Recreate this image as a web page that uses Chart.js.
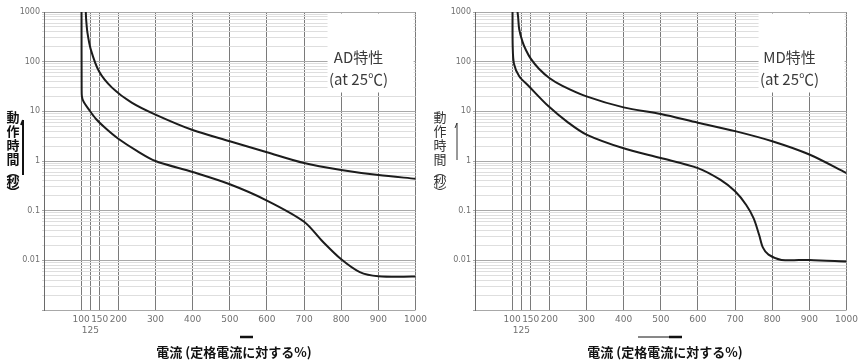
<!DOCTYPE html>
<html lang="ja">
<head>
<meta charset="UTF-8">
<title>AD特性 / MD特性</title>
<script src="https://cdn.jsdelivr.net/npm/chart.js"></script>
<style>
    body {
        margin: 0;
        background: #fff;
    }
    .wrap {
        display: flex;
        width: 862px;
        height: 363px;
    }
    .panel {
        width: 431px;
        height: 363px;
    }
</style>
</head>
<body>
<div class="wrap">
    <div class="panel"><canvas id="adChart" width="431" height="363"></canvas></div>
    <div class="panel"><canvas id="mdChart" width="431" height="363"></canvas></div>
</div>

<script>
// axis ticks
const xTicks = [100, 125, 150, 200, 300, 400, 500, 600, 700, 800, 900, 1000];
const yDecades = [0.001, 0.01, 0.1, 1, 10, 100, 1000];
const yLabels = ['', '0.01', '0.1', '1', '10', '100', '1000'];

// AD characteristic (current % of rating -> seconds)
const adMinX = [101, 101.3, 102, 106, 121, 140, 165, 200, 250, 300, 400, 500, 600, 700, 750, 800, 850, 900, 1000];
const adMinT = [1000, 30, 20, 16, 10.8, 7, 4.6, 2.8, 1.6, 1.0, 0.6, 0.34, 0.16, 0.06, 0.024, 0.0105, 0.0058, 0.0048, 0.0047];
const adMaxX = [112.5, 113.5, 117, 126, 148, 183, 236, 300, 400, 500, 600, 700, 800, 900, 1000];
const adMaxT = [1000, 700, 380, 175, 64, 30, 15, 8.6, 4.2, 2.5, 1.5, 0.91, 0.66, 0.52, 0.44];

// MD characteristic
const mdMinX = [101, 101.5, 105, 119, 145, 198, 250, 300, 400, 500, 600, 660, 700, 730, 750, 765, 775, 790, 825, 900, 1000];
const mdMinT = [1000, 200, 90, 51, 32, 12.6, 6, 3.4, 1.8, 1.15, 0.72, 0.42, 0.245, 0.13, 0.07, 0.032, 0.018, 0.013, 0.0102, 0.0102, 0.0095];
const mdMaxX = [114.5, 116, 119, 128, 137, 150, 172, 200, 234, 300, 400, 500, 600, 700, 800, 900, 1000];
const mdMaxT = [1000, 800, 450, 250, 172, 115, 72, 47, 33, 20, 12, 8.8, 5.9, 4.0, 2.5, 1.35, 0.57];

const cjk = '"Noto Sans CJK JP", "Noto Sans", sans-serif';

function toPoints(xs, ts) {
    return xs.map((x, i) => ({ x: x, y: ts[i] }));
}

function isDecade(v) {
    return yDecades.some(d => Math.abs(d - v) < d * 1e-6);
}

// minor log lines 2..9 in every decade
function yGridValues() {
    const vals = [];
    for (let i = 0; i < yDecades.length; i++) {
        vals.push(yDecades[i]);
        if (i < yDecades.length - 1) {
            for (let m = 2; m <= 9; m++) vals.push(+(yDecades[i] * m).toPrecision(3));
        }
    }
    return vals;
}

function makeTextPlugin(p) {
    return {
        id: 'panelText',
        beforeDatasetsDraw(chart) {
            const ctx = chart.ctx;
            const a = chart.chartArea;
            // blank box behind the label
            ctx.save();
            ctx.fillStyle = '#fff';
            ctx.fillRect(a.right - 88, a.top + 1.5, 86, 79);
            ctx.restore();
        },
        afterDraw(chart) {
            const ctx = chart.ctx;
            const a = chart.chartArea;
            ctx.save();
            ctx.textAlign = 'center';
            ctx.textBaseline = 'middle';

            // label inside plot
            ctx.fillStyle = '#3a3a3a';
            ctx.font = '15px ' + cjk;
            ctx.fillText(p.name, a.right - 57, 57);
            ctx.fillText('(at 25℃)', a.right - 57, 79);

            // vertical y title
            ctx.fillStyle = p.yColor;
            ctx.font = p.yFont + ' 13px ' + cjk;
            const chars = ['動', '作', '時', '間', '︵', '秒', '︶'];
            const ys = [117, 131, 145, 159, 171, 181, 192];
            chars.forEach((c, i) => ctx.fillText(c, p.yTitleX, ys[i]));
            ctx.strokeStyle = p.yColor;
            ctx.lineWidth = p.arrowW;
            ctx.beginPath();
            ctx.moveTo(p.arrowX, p.arrowBottom);
            ctx.lineTo(p.arrowX, p.arrowTop);
            ctx.stroke();
            ctx.beginPath();
            ctx.moveTo(p.arrowX - 2, p.arrowTop + 5);
            ctx.lineTo(p.arrowX, p.arrowTop);
            ctx.stroke();

            // x title
            ctx.fillStyle = '#111';
            ctx.font = 'bold 13px ' + cjk;
            ctx.fillText('電流 (定格電流に対する%)', 234, 352);
            ctx.strokeStyle = '#111';
            ctx.lineWidth = 1;
            ctx.beginPath();
            ctx.moveTo(p.barFrom, 337);
            ctx.lineTo(p.barTo, 337);
            ctx.stroke();
            ctx.lineWidth = 2.5;
            ctx.beginPath();
            ctx.moveTo(p.barTo - 13, 337);
            ctx.lineTo(p.barTo, 337);
            ctx.stroke();
            ctx.restore();
        }
    };
}

function makeChart(id, minPts, maxPts, textOpts) {
    const curve = (data) => ({
        data: data,
        borderColor: '#1c1c1c',
        borderWidth: 2,
        pointRadius: 0,
        tension: 0.3,
        fill: false
    });
    return new Chart(document.getElementById(id), {
        type: 'line',
        data: {
            datasets: [curve(minPts), curve(maxPts)]
        },
        options: {
            responsive: false,
            animation: false,
            layout: {
                padding: { left: 0, right: 8, top: 12, bottom: 0 }
            },
            plugins: {
                legend: { display: false },
                tooltip: { enabled: false }
            },
            scales: {
                x: {
                    type: 'linear',
                    min: 0,
                    max: 1000,
                    afterBuildTicks: (scale) => {
                        scale.ticks = xTicks.map(v => ({ value: v }));
                    },
                    afterFit: (scale) => { scale.height = 53; },
                    border: { display: false },
                    grid: {
                        color: '#7a7a7a',
                        lineWidth: 1,
                        drawTicks: false
                    },
                    ticks: {
                        autoSkip: false,
                        maxRotation: 0,
                        padding: 4,
                        color: '#707070',
                        font: { size: 9, family: 'DejaVu Sans' },
                        callback: (v) => v === 125 ? ['', '125'] : String(v)
                    }
                },
                y: {
                    type: 'logarithmic',
                    min: 0.001,
                    max: 1000,
                    afterBuildTicks: (scale) => {
                        scale.ticks = yGridValues().map(v => ({ value: v }));
                    },
                    afterFit: (scale) => { scale.width = 44; },
                    border: { display: true, color: '#6a6a6a', width: 1 },
                    grid: {
                        color: (c) => c.tick && isDecade(c.tick.value) ? '#a8a8a8' : '#dedede',
                        lineWidth: 1,
                        tickLength: 2
                    },
                    ticks: {
                        autoSkip: false,
                        padding: 2,
                        color: '#707070',
                        font: { size: 8, family: 'DejaVu Sans' },
                        callback: (v) => {
                            const i = yDecades.findIndex(d => Math.abs(d - v) < d * 1e-6);
                            return i >= 0 ? yLabels[i] : '';
                        }
                    }
                }
            }
        },
        plugins: [makeTextPlugin(textOpts)]
    });
}

makeChart('adChart', toPoints(adMinX, adMinT), toPoints(adMaxX, adMaxT), {
    name: 'AD特性',
    yTitleX: 13, yColor: '#111', yFont: 'bold',
    arrowX: 23, arrowTop: 120, arrowBottom: 175, arrowW: 2,
    barFrom: 240, barTo: 253
});

makeChart('mdChart', toPoints(mdMinX, mdMinT), toPoints(mdMaxX, mdMaxT), {
    name: 'MD特性',
    yTitleX: 9, yColor: '#333', yFont: 'normal',
    arrowX: 26, arrowTop: 123, arrowBottom: 160, arrowW: 1,
    barFrom: 207, barTo: 251
});
</script>
</body>
</html>
